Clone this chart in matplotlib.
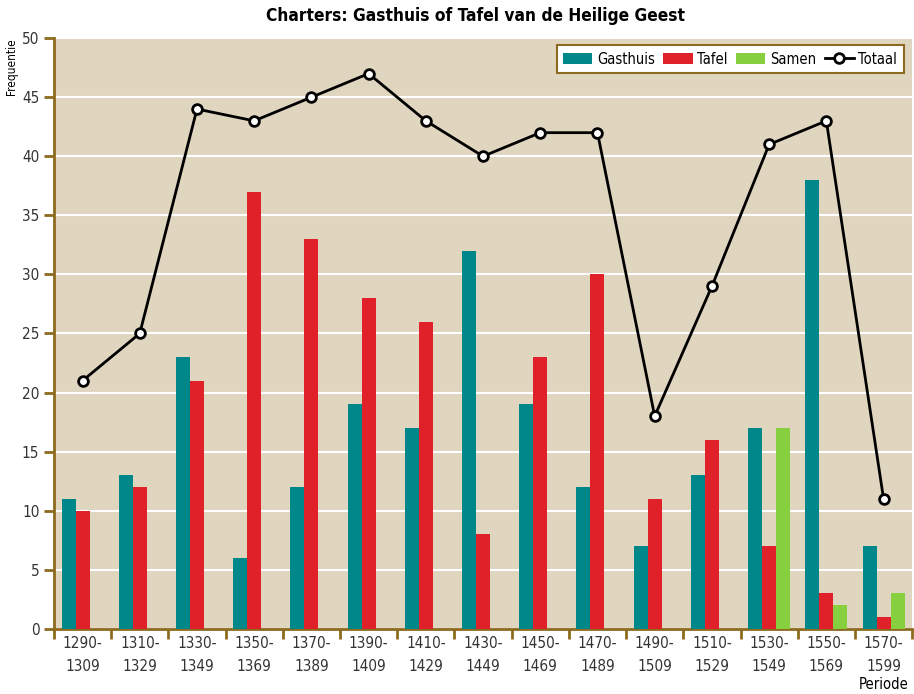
import matplotlib.pyplot as plt
import numpy as np

plt.rcParams['font.family'] = ['DejaVu Sans']
plt.rcParams['font.stretch'] = 'condensed'

perioden = ['1290-\n1309', '1310-\n1329', '1330-\n1349', '1350-\n1369', '1370-\n1389',
            '1390-\n1409', '1410-\n1429', '1430-\n1449', '1450-\n1469', '1470-\n1489',
            '1490-\n1509', '1510-\n1529', '1530-\n1549', '1550-\n1569', '1570-\n1599']
gasthuis = [11, 13, 23, 6, 12, 19, 17, 32, 19, 12, 7, 13, 17, 38, 7]
tafel = [10, 12, 21, 37, 33, 28, 26, 8, 23, 30, 11, 16, 7, 3, 1]
samen = [0, 0, 0, 0, 0, 0, 0, 0, 0, 0, 0, 0, 17, 2, 3]
totaal = [21, 25, 44, 43, 45, 47, 43, 40, 42, 42, 18, 29, 41, 43, 11]

bruin = '#8C6A1E'

fig = plt.figure(figsize=(9.14, 6.94), dpi=100)
ax = fig.add_axes([0.059, 0.094, 0.939, 0.851])
ax.set_facecolor('#E0D5BF')

x = np.arange(len(perioden))
w = 0.245
b1 = ax.bar(x - w, gasthuis, w, color='#00878A', label='Gasthuis', zorder=3)
b2 = ax.bar(x, tafel, w, color='#E0212A', label='Tafel', zorder=3)
b3 = ax.bar(x + w, samen, w, color='#86CF3F', label='Samen', zorder=3)
l1, = ax.plot(x, totaal, color='black', lw=2, marker='o', ms=7, mfc='white', mec='black',
              mew=2, label='Totaal', zorder=4)

ax.set_xlim(-0.47, 14.5)
ax.set_ylim(0, 50)
ax.set_yticks(range(0, 51, 5))
ax.yaxis.grid(True, color='white', lw=1.5, zorder=1)
ax.set_axisbelow(True)

ax.set_xticks(x)
ax.set_xticklabels(perioden, fontsize=11, color='#333333', linespacing=1.7)
ax.set_xticks(np.arange(-0.5, 15, 1), minor=True)
ax.tick_params(axis='x', which='major', length=0, pad=5)
ax.tick_params(axis='x', which='minor', length=7, width=2, color=bruin)
ax.tick_params(axis='y', length=7, width=2, color=bruin, labelsize=11, labelcolor='#333333')

for s in ['top', 'right']:
    ax.spines[s].set_visible(False)
for s in ['left', 'bottom']:
    ax.spines[s].set_color(bruin)
    ax.spines[s].set_linewidth(2)

fig.text(0.006, 0.945, 'Frequentie', rotation=90, ha='left', va='top', fontsize=8.5)
fig.text(0.994, 0.003, 'Periode', ha='right', va='bottom', fontsize=10.5)
fig.suptitle('Charters: Gasthuis of Tafel van de Heilige Geest', x=0.52, y=0.99,
             fontsize=12.4, fontweight='bold')

leg = ax.legend([b1, b2, b3, l1], ['Gasthuis', 'Tafel', 'Samen', 'Totaal'],
                loc='upper right', ncol=4, fontsize=10.5, frameon=True, fancybox=False,
                edgecolor=bruin, facecolor='white', framealpha=1, handlelength=2.0,
                handleheight=0.8, columnspacing=0.6, handletextpad=0.3,
                borderpad=0.45, borderaxespad=0, bbox_to_anchor=(0.99, 0.988))
leg.get_frame().set_linewidth(1.5)

fig.savefig('out.png', dpi=100)
